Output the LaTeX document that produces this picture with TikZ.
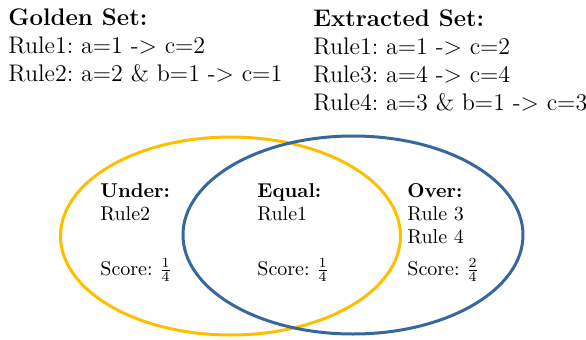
\documentclass[tikz,border=0pt]{standalone}
\usepackage{xcolor}
\usepackage{amsmath}
\usepackage{tikz}
\usetikzlibrary{positioning}
\frenchspacing
\definecolor{mygold}{RGB}{255,190,0}
\definecolor{myblue}{RGB}{54,104,158}
\tikzset{
  setlist/.style={inner sep=0pt, align=left, anchor=north west, font=\fontsize{12}{14}\selectfont},
  region/.style={inner sep=0pt, align=left, anchor=north west, font=\fontsize{10}{11.5}\selectfont},
  score/.style={inner sep=0pt, anchor=base west, font=\fontsize{10}{11.5}\selectfont},
  ring/.style={line width=1.5pt}
}
\begin{document}
\begin{tikzpicture}[x=0.5pt, y=-0.5pt]
  \useasboundingbox (0,0) rectangle (586,339);
  % Set lists (top)
  \node[setlist] (golden) at (8,8) {\textbf{Golden Set:}\\Rule1: a=1 -> c=2\\Rule2: a=2 \& b=1 -> c=1};
  \node[setlist] (extracted) at (313,9) {\textbf{Extracted Set:}\\Rule1: a=1 -> c=2\\Rule3: a=4 -> c=4\\Rule4: a=3 \& b=1 -> c=3};

  % Venn circles
  \draw[ring, mygold] (230.5,236) ellipse [x radius=170, y radius=99];
  \draw[ring, myblue] (353,235) ellipse [x radius=170, y radius=99];

  % Regions
  \node[region] (under) at (100,183) {\textbf{Under:}\\Rule2};
  \node[region] (equal) at (257,183) {\textbf{Equal:}\\Rule1};
  \node[region] (over) at (407,183) {\textbf{Over:}\\Rule 3\\Rule 4};
  \node[score] (underscore) at (100,275) {Score: $\frac{1}{4}$};
  \node[score] (equalscore) at (257,275) {Score: $\frac{1}{4}$};
  \node[score] (overscore) at (407,275) {Score: $\frac{2}{4}$};
\end{tikzpicture}
\end{document}
